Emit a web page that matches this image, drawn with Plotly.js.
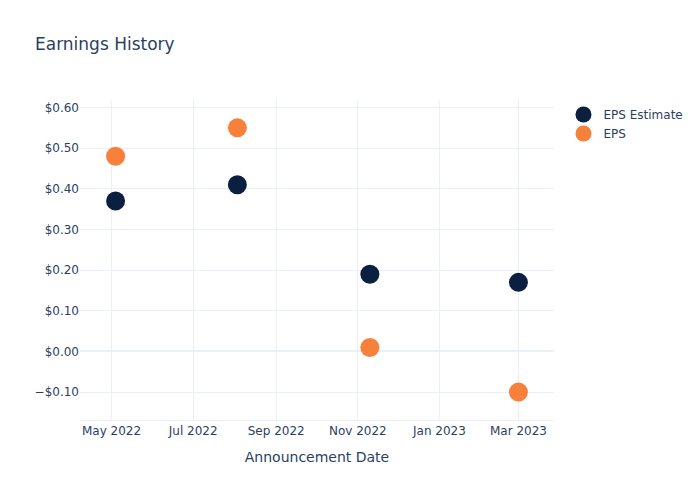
<!DOCTYPE html>
<html>
<head>
<meta charset="utf-8">
<script src="https://cdn.plot.ly/plotly-3.0.1.min.js"></script>
<style>body{margin:0;padding:0;}#chart{width:700px;height:500px;}</style>
</head>
<body>
<div id="chart"></div>
<script>
const dates = ["2022-05-04", "2022-08-03", "2022-11-10", "2023-03-01"];
const epsEstimate = [0.37, 0.41, 0.19, 0.17];
const epsActual = [0.48, 0.55, 0.01, -0.10];

const traces = [
  {x: dates, y: epsEstimate, name: "EPS Estimate", type: "scatter", mode: "markers",
   marker: {color: "#0B1F41", size: 19}},
  {x: dates, y: epsActual, name: "EPS", type: "scatter", mode: "markers",
   marker: {color: "#F7803A", size: 19}}
];
const layout = {
  width: 700, height: 500,
  paper_bgcolor: "#fff", plot_bgcolor: "#fff",
  font: {family: "DejaVu Sans", color: "#2a3f5f"},
  title: {text: "Earnings History", x: 0.05},
  xaxis: {title: {text: "Announcement Date", standoff: 14}, type: "date", tickformat: "%b %Y",
          gridcolor: "#EBF0F8", linecolor: "#EBF0F8", zeroline: false},
  yaxis: {tickformat: "$.2f", gridcolor: "#EBF0F8", zerolinecolor: "#EBF0F8", zerolinewidth: 2},
  legend: {font: {size: 12}},
  margin: {l: 80, r: 80, t: 100, b: 80}
};
Plotly.newPlot("chart", traces, layout, {displayModeBar: false});
</script>
</body>
</html>
